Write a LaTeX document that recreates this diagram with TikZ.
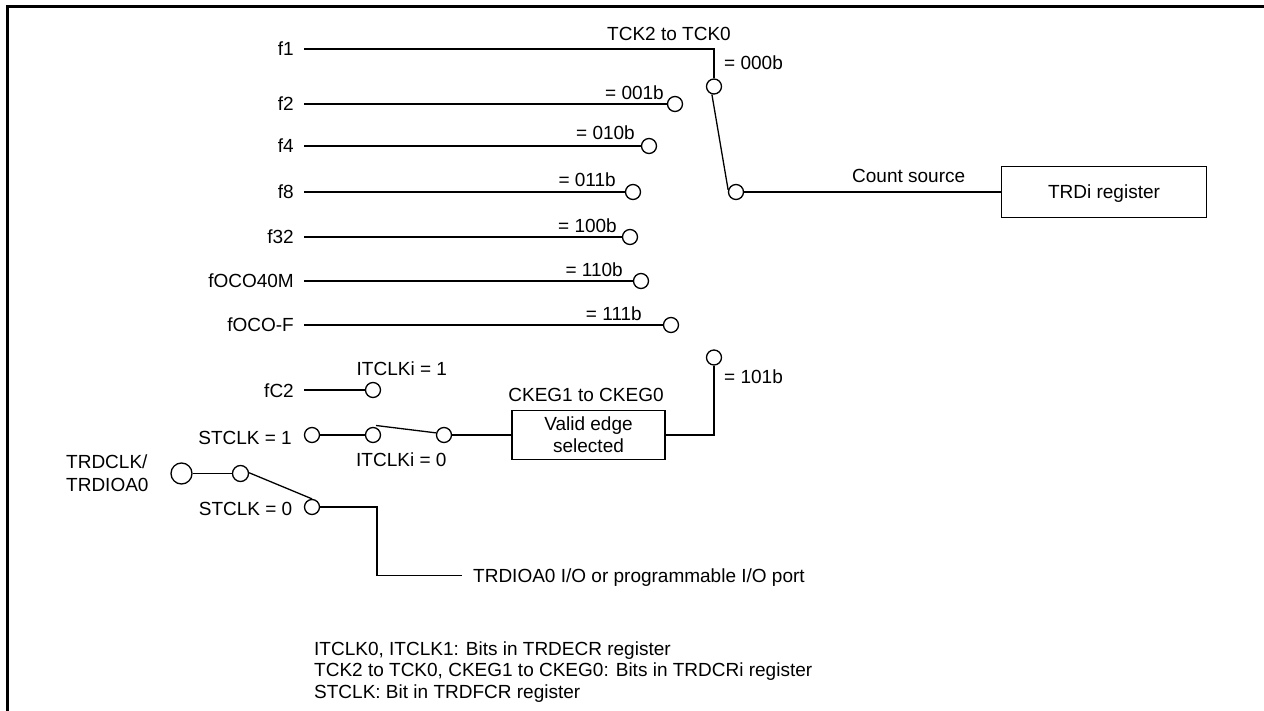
\documentclass[tikz,border=0pt]{standalone}
\usepackage{fontspec}
\setmainfont{Liberation Sans}
\tikzset{
    wire/.style={line width=1.3pt},
    pin/.style={draw, circle, line width=1.3pt, inner sep=0pt, minimum size=15pt},
    src/.style={anchor=east, inner xsep=10pt, inner ysep=0pt, text height=14pt, text depth=0pt},
    lbl/.style={inner sep=0pt},
    regbox/.style={draw, line width=1.3pt, inner sep=0pt, align=center}
}
\begin{document}
\begin{tikzpicture}[x=1pt, y=-1pt, font=\fontsize{19}{23.5}\selectfont]
        \useasboundingbox (0,0) rectangle (1264,711);
        % frame
        \draw[line width=3pt] (7,715) -- (7,7) -- (1268,7);

        % clock sources
        \node[src] (f1) at (304,49) {f1};
        \node[src] (f2) at (304,104) {f2};
        \node[src] (f4) at (304,146) {f4};
        \node[src] (f8) at (304,192) {f8};
        \node[src] (f32) at (304,237) {f32};
        \node[src] (fOCOM) at (304,281) {fOCO40M};
        \node[src] (fOCOF) at (304,325) {fOCO-F};
        \node[src] (fC2) at (304,390) {fC2};

        % selector contacts
        \node[pin] (P000) at (714,86.5) {};
        \node[pin] (P001) at (675,104) {};
        \node[pin] (P010) at (649,146) {};
        \node[pin] (P011) at (633,192) {};
        \node[pin] (P100) at (630,237) {};
        \node[pin] (P110) at (641,281) {};
        \node[pin] (P111) at (671,325) {};
        \node[pin] (P101) at (714,357.5) {};
        \node[pin] (POUT) at (736,192) {};

        \draw[wire] (f1.east) -| (P000);
        \draw[wire] (f2.east) -- (P001);
        \draw[wire] (f4.east) -- (P010);
        \draw[wire] (f8.east) -- (P011);
        \draw[wire] (f32.east) -- (P100);
        \draw[wire] (fOCOM.east) -- (P110);
        \draw[wire] (fOCOF.east) -- (P111);
        \draw[wire] (P000.255) -- (POUT.165);

        % selector labels
        \node[lbl, anchor=base] at (669,40.5) {TCK2 to TCK0};
        \node[lbl, anchor=base west] at (724,69.5) {= 000b};
        \node[lbl, anchor=base east] at (664,99.5) {= 001b};
        \node[lbl, anchor=base east] at (635,140) {= 010b};
        \node[lbl, anchor=base east] at (616,186.5) {= 011b};
        \node[lbl, anchor=base east] at (617,232.5) {= 100b};
        \node[lbl, anchor=base east] at (623,276.5) {= 110b};
        \node[lbl, anchor=base east] at (642,320.5) {= 111b};
        \node[lbl, anchor=base west] at (724,383) {= 101b};

        % register
        \node[regbox, minimum width=205pt, minimum height=51pt, text height=14pt, text depth=0pt] (REG) at (1104,192) {TRDi register};
        \draw[wire] (POUT) -- (REG);
        \node[lbl, anchor=base west] at (852,182.5) {Count source};

        % edge select
        \node[regbox, minimum width=153pt, minimum height=49.5pt] (EDGE) at (588.5,435) {Valid edge\\[-1.5pt]selected};
        \node[lbl, anchor=base] at (586,401.5) {CKEG1 to CKEG0};
        \draw[wire] (EDGE) -| (P101);

        % external input
        \node[pin] (I1) at (373,390) {};
        \node[pin] (S1) at (312,435) {};
        \node[pin] (I0) at (373,435) {};
        \node[pin] (IOUT) at (444,435) {};
        \node[pin, minimum size=21pt] (TRD) at (181.5,473.5) {};
        \node[pin, minimum size=16pt] (TIN) at (240.5,473.5) {};
        \node[pin] (S0) at (312,507) {};
        \coordinate (ISW) at (376,425.5);

        \draw[wire] (fC2.east) -- (I1);
        \draw[wire] (S1) -- (I0);
        \draw[wire] (ISW) -- (IOUT.165);
        \draw[wire] (IOUT) -- (EDGE);
        \draw[wire] (TRD) -- (TIN);
        \draw[wire] (TIN.5) -- (S0.90);

        \node[lbl, anchor=base west] at (356.5,375) {ITCLKi = 1};
        \node[lbl, anchor=base west] at (356,466) {ITCLKi = 0};
        \node[lbl, anchor=base east] at (292,444) {STCLK = 1};
        \node[lbl, anchor=base east] at (292.5,515.5) {STCLK = 0};
        \node[lbl, anchor=base west, align=left] at (66,491.5) {TRDCLK/\\TRDIOA0};

        % port
        \node[lbl, anchor=west, inner xsep=11pt, text height=14pt, text depth=0pt] (PORT) at (462,575.5) {TRDIOA0 I/O or programmable I/O port};
        \draw[wire] (S0) -- ++(65,0) |- (PORT.west);

        % notes
        \node[lbl, anchor=base west] at (314,655) {ITCLK0, ITCLK1: Bits in TRDECR register};
        \node[lbl, anchor=base west] at (314,676.5) {TCK2 to TCK0, CKEG1 to CKEG0: Bits in TRDCRi register};
        \node[lbl, anchor=base west] at (314,698) {STCLK: Bit in TRDFCR register};
    \end{tikzpicture}
\end{document}
